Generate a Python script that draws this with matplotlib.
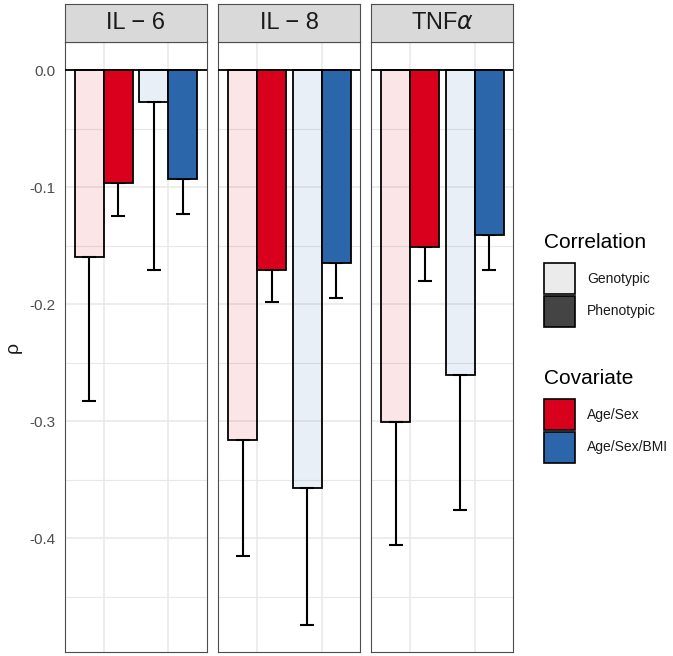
import numpy as np
import matplotlib
matplotlib.use('Agg')
import matplotlib.pyplot as plt
from matplotlib.patches import Rectangle
from matplotlib.colors import to_rgba

plt.rcParams['font.family'] = ['Liberation Sans', 'DejaVu Sans']

# figure size in pixels
W, H = 673, 656

# facet labels and categories
panels = ['IL \u2212 6', 'IL \u2212 8', r'TNF$\alpha$']
covariates = ['Age/Sex', 'Age/Sex/BMI']
correlations = ['Genotypic', 'Phenotypic']

# rho estimates per panel, [Age/Sex, Age/Sex/BMI]
geno_rho = [[-0.160, -0.027], [-0.316, -0.357], [-0.301, -0.261]]
pheno_rho = [[-0.096, -0.093], [-0.171, -0.165], [-0.151, -0.141]]
# lower end of the error bars
geno_lo = [[-0.283, -0.171], [-0.415, -0.474], [-0.406, -0.376]]
pheno_lo = [[-0.125, -0.123], [-0.198, -0.195], [-0.180, -0.171]]

cov_colors = ['#D8001C', '#2B66AA']
corr_colors = ['#EBEBEB', '#444444']

fig = plt.figure(figsize=(W / 100, H / 100), dpi=100)


def px_box(x0, y0, x1, y1):
    # pixel box (top-left origin) -> figure fraction [l, b, w, h]
    return [x0 / W, 1 - y1 / H, (x1 - x0) / W, (y1 - y0) / H]


panel_left = [65, 218.3, 371.3]
panel_w = 142
ytop, ybot, strip_top = 42.3, 651.5, 4

x = np.arange(1, len(covariates) + 1)
bw = 0.45

for i, name in enumerate(panels):
    L = panel_left[i]
    ax = fig.add_axes(px_box(L, ytop, L + panel_w, ybot))
    ax.set_xlim(0.4, 2.6)
    ax.set_ylim(-0.497, 0.0239)

    # grid
    ax.set_yticks(np.arange(0, -0.45, -0.1))
    ax.set_yticks(np.arange(-0.05, -0.5, -0.1), minor=True)
    ax.set_xticks(x)
    ax.grid(True, which='major', color='#E8E8E8', lw=1.1, zorder=0)
    ax.grid(True, which='minor', axis='y', color='#E8E8E8', lw=0.8, zorder=0)
    ax.set_axisbelow(True)
    ax.tick_params(which='both', length=0)
    ax.set_xticklabels([])
    if i == 0:
        ax.set_yticklabels(['0.0', '-0.1', '-0.2', '-0.3', '-0.4'])
        ax.tick_params(axis='y', labelsize=11, labelcolor='#4D4D4D', pad=7)
    else:
        ax.set_yticklabels([])

    for sp in ax.spines.values():
        sp.set_color('#4D4D4D')
        sp.set_linewidth(0.8)

    # bars: genotypic (pale) left of phenotypic (solid) at each covariate
    for j in range(len(covariates)):
        for k, (rho, lo) in enumerate([(geno_rho, geno_lo), (pheno_rho, pheno_lo)]):
            xc = x[j] - bw / 2 + k * bw
            val = rho[i][j]
            err = val - lo[i][j]
            ax.errorbar(xc, val, yerr=[[err], [0]], fmt='none', ecolor='black',
                        elinewidth=1.5, capsize=4.7, capthick=1.5, zorder=2)
            face = to_rgba(cov_colors[j], 0.1 if k == 0 else 1.0)
            ax.bar(xc, val, width=bw, color=face, edgecolor='black', linewidth=1.3, zorder=3)

    ax.axhline(0, color='black', lw=1.3, zorder=4)

    # strip
    sax = fig.add_axes(px_box(L, strip_top, L + panel_w, ytop))
    sax.set_facecolor('#D9D9D9')
    sax.set_xticks([])
    sax.set_yticks([])
    for sp in sax.spines.values():
        sp.set_color('#4D4D4D')
        sp.set_linewidth(0.8)
    sax.text(0.5, 0.5, name, ha='center', va='center', fontsize=17,
             color='#1A1A1A', transform=sax.transAxes)

fig.text(13 / W, 1 - 347 / H, '\u03c1', rotation=90, ha='center', va='center',
         fontsize=14, color='#1A1A1A')


# legends
def legend_block(title, labels, colors, title_y, key_top):
    fig.text(544 / W, 1 - title_y / H, title, ha='left', va='center',
             fontsize=15, color='black')
    for n, (lab, col) in enumerate(zip(labels, colors)):
        y0 = key_top + n * 33
        fig.add_artist(Rectangle((544 / W, 1 - (y0 + 31) / H), 31 / W, 31 / H,
                                 facecolor=col, edgecolor='black', lw=1.2,
                                 transform=fig.transFigure))
        fig.text(587 / W, 1 - (y0 + 15.5) / H, lab, ha='left', va='center',
                 fontsize=10, color='#1A1A1A')


legend_block('Correlation', correlations, corr_colors, 242, 263)
legend_block('Covariate', covariates, cov_colors, 378, 399)

fig.savefig('out.png', dpi=100)
